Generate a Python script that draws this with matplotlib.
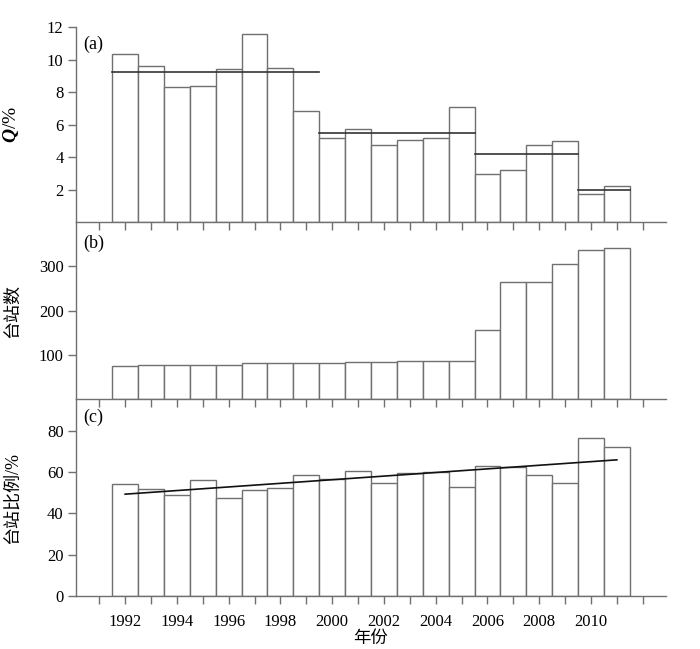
import numpy as np
import matplotlib
matplotlib.use('Agg')
from matplotlib import pyplot as plt

plt.rcParams['font.family'] = ['Liberation Serif', 'Noto Sans CJK SC', 'DejaVu Sans']
plt.rcParams['mathtext.fontset'] = 'custom'
plt.rcParams['mathtext.rm'] = 'Liberation Serif'
plt.rcParams['mathtext.it'] = 'Liberation Serif:italic:bold'

years = np.arange(1992, 2012)

# (a) Q / %
q_vals = [10.31, 9.61, 8.32, 8.38, 9.42, 11.57, 9.48, 6.84, 5.20, 5.72,
          4.75, 5.06, 5.14, 7.07, 2.97, 3.21, 4.75, 4.96, 1.70, 2.19]
# period means (first year, last year, mean)
period_start = [1992, 2000, 2006, 2010]
period_end = [1999, 2005, 2009, 2011]
period_mean = [9.25, 5.49, 4.18, 1.96]

# (b) station counts
n_station = [74, 77, 77, 77, 77, 82, 82, 82, 82, 84,
             84, 85, 85, 85, 157, 264, 264, 305, 337, 341]

# (c) station ratio / %
ratio = [54.0, 51.9, 48.7, 56.4, 47.5, 51.2, 52.4, 58.5, 56.6, 60.6,
         54.8, 59.8, 60.0, 52.9, 63.0, 62.7, 58.4, 54.6, 76.3, 72.2]

gray = '#707070'
W, H = 700, 649
fig = plt.figure(figsize=(W / 100, H / 100), dpi=100)

def box(top, bottom):
    return [76 / W, 1 - bottom / H, 590 / W, (bottom - top) / H]

ax_a = fig.add_axes(box(27, 222))
ax_b = fig.add_axes(box(222, 399))
ax_c = fig.add_axes(box(399, 596))

for ax in (ax_a, ax_b, ax_c):
    for s in ('top', 'right'):
        ax.spines[s].set_visible(False)
    for s in ('left', 'bottom'):
        ax.spines[s].set_color(gray)
        ax.spines[s].set_linewidth(1.0)
    ax.set_xlim(1990.1, 2012.9)
    ax.set_xticks(np.arange(1991, 2013))
    ax.tick_params(direction='out', length=6, width=1.0, color=gray,
                   labelsize=12, pad=3)
    ax.set_facecolor('none')

ax_a.bar(years, q_vals, width=1.0, facecolor='white', edgecolor=gray, linewidth=1.0)
for s, e, m in zip(period_start, period_end, period_mean):
    ax_a.plot([s - 0.5, e + 0.5], [m, m], color='#333333', lw=1.2)
ax_a.set_ylim(0, 12)
ax_a.set_yticks([2, 4, 6, 8, 10, 12])
ax_a.set_xticklabels([])
ax_a.set_ylabel('$\\mathit{Q}$/%', fontsize=14)
ax_a.text(0.013, 0.955, '(a)', transform=ax_a.transAxes, fontsize=13, va='top')

ax_b.bar(years, n_station, width=1.0, facecolor='white', edgecolor=gray, linewidth=1.0)
ax_b.set_ylim(0, 400)
ax_b.set_yticks([100, 200, 300])
ax_b.set_xticklabels([])
ax_b.set_ylabel('台站数', fontsize=13)
ax_b.text(0.013, 0.93, '(b)', transform=ax_b.transAxes, fontsize=13, va='top')

ax_c.bar(years, ratio, width=1.0, facecolor='white', edgecolor=gray, linewidth=1.0)
k, b0 = np.polyfit(years, ratio, 1)
ax_c.plot(years[[0, -1]], k * years[[0, -1]] + b0, color='#111111', lw=1.2)
ax_c.set_ylim(0, 95.4)
ax_c.set_yticks([0, 20, 40, 60, 80])
labels = [str(y) if (y % 2 == 0 and 1992 <= y <= 2010) else '' for y in range(1991, 2013)]
ax_c.set_xticklabels(labels)
ax_c.tick_params(axis='x', pad=7)
ax_c.set_ylabel('台站比例/%', fontsize=13)
ax_c.set_xlabel('年份', fontsize=12.5, labelpad=1)
ax_c.text(0.013, 0.95, '(c)', transform=ax_c.transAxes, fontsize=13, va='top')

for ax in (ax_a, ax_b, ax_c):
    ax.yaxis.set_label_coords(-0.093, 0.5)

plt.savefig('out.png', dpi=100)
plt.close()
